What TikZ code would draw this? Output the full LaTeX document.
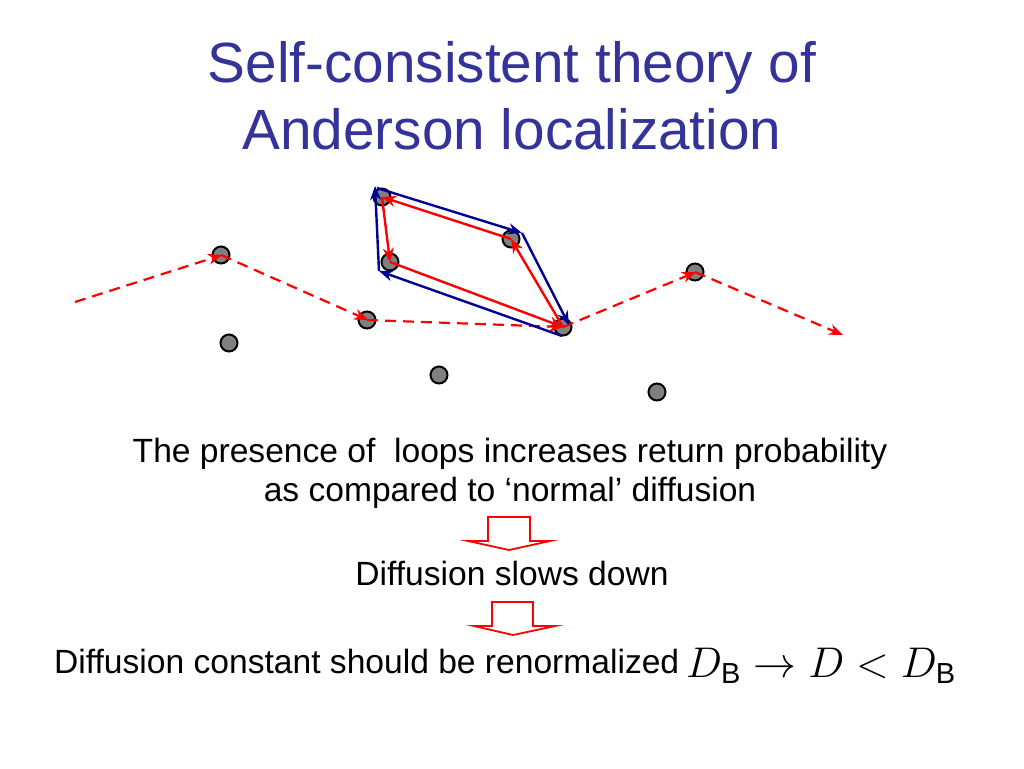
\documentclass[tikz,border=0pt]{standalone}
\usepackage{fontspec}
\setmainfont{Liberation Sans}
\setsansfont{Liberation Sans}
\usetikzlibrary{arrows.meta}
\definecolor{titleblue}{RGB}{51,51,153}
\definecolor{loopblue}{RGB}{0,0,150}
\definecolor{dotgray}{RGB}{128,128,128}
\begin{document}
\begin{tikzpicture}[x=1pt,y=-1pt,
  dot/.style={circle,minimum size=17pt,inner sep=0pt,fill=dotgray,draw=black,line width=2pt},
  tip/.style={-{Stealth[length=14pt,width=11pt,inset=4.5pt]}},
  rdash/.style={red,line width=2.2pt,dash pattern=on 11pt off 7pt,tip},
  rloop/.style={red,line width=2.4pt,tip},
  bloop/.style={loopblue,line width=2.4pt,tip},
  blockarrow/.style={draw=red,line width=1.8pt,fill=white,line join=miter},
  body/.style={font=\fontsize{33.6}{40}\selectfont,inner sep=0pt,anchor=base},
  ttl/.style={font=\fontsize{56.7}{70}\selectfont,text=titleblue,inner sep=0pt,anchor=base}]
\useasboundingbox (0,0) rectangle (1024,768);
\fill[white] (0,0) rectangle (1024,768);
% title
\node[ttl] (t1) at (512,82) {Self-consistent theory of};
\node[ttl] (t2) at (512,149) {Anderson localization};
% dots
\node[dot] (A) at (221,255) {};
\node[dot] (B) at (229,343) {};
\node[dot] (C) at (367,320) {};
\node[dot] (D) at (382,197) {};
\node[dot] (E) at (390,262) {};
\node[dot] (F) at (511,239) {};
\node[dot] (G) at (563,327) {};
\node[dot] (H) at (439,375) {};
\node[dot] (I) at (695,272) {};
\node[dot] (J) at (657,392) {};
% dashed trajectory
\coordinate (s) at (75,302);
\coordinate (e) at (843,335);
\draw[rdash] (s) -- ([xshift=1pt]A.center);
\draw[rdash] (A.center) -- ([xshift=1pt]C.center);
\draw[rdash] (C.center) -- (G.center);
\draw[rdash] (G.center) -- ([xshift=1pt]I.center);
\draw[rdash] (I.center) -- (e);
% blue loop (outer)
\coordinate (bG) at (562,336);
\coordinate (bE) at (379,271);
\coordinate (bD) at (375,186);
\coordinate (bF) at (522,233);
\coordinate (bG2) at (569,325);
\draw[bloop] (bG) -- (bE);
\draw[bloop] (bE) -- (bD);
\draw[bloop] ([shift={(2,2)}]bD) -- (bF);
\draw[bloop] (bF) -- (bG2);
% red loop (inner)
\draw[rloop] (G.center) -- (F.center);
\draw[rloop] (F.center) -- (D.center);
\draw[rloop] (D.center) -- (E.center);
\draw[rloop] (E.center) -- (G.center);
% texts
\node[body] (p1) at (510,462) {The presence of \ loops increases return probability};
\node[body] (p2) at (510,501) {as compared to ‘normal’ diffusion};
\draw[blockarrow] (488,517) -- (530,517) -- (530,541) -- (550,541) -- (509,550) -- (468,541) -- (488,541) -- cycle;
\node[body] (p3) at (512,585) {Diffusion slows down};
\draw[blockarrow] (492,602) -- (533,602) -- (533,626) -- (555,626) -- (513,635) -- (474,626) -- (492,626) -- cycle;
\node[body,anchor=base west] (p4) at (54,673) {Diffusion constant should be renormalized};
\node[anchor=base west,inner sep=0pt] (m) at (686,677) {\scalebox{2.07}{\fontsize{20}{24}\selectfont$D_{\mathsf{B}}\rightarrow D<D_{\mathsf{B}}$}};
\end{tikzpicture}
\end{document}
